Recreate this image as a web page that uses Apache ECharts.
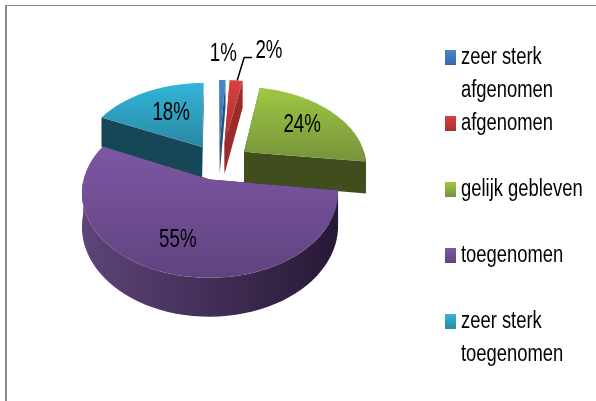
<!DOCTYPE html>
<html>
<head>
<meta charset="utf-8">
<style>html,body{margin:0;padding:0;background:#fff}#chart{width:596px;height:401px}</style>
<script src="https://cdn.jsdelivr.net/npm/echarts@6/dist/echarts.min.js"></script>
</head>
<body>
<div id="chart"></div>
<script>
const categories = ["zeer sterk\nafgenomen", "afgenomen", "gelijk gebleven", "toegenomen", "zeer sterk\ntoegenomen"]
const values = [1, 2, 24, 55, 18]

// top face gradient, side wall, outer wall left/right
const topColors = [["#4a86c8", "#336aa8"], ["#d8413e", "#a92f2c"], ["#9fc844", "#76933a"], ["#7d57a3", "#5f4380"], ["#33b5d9", "#2a88a4"]]
const wallColors = ["#25507f", "#9a2b28", "#3f4e1c", "#2a1c3a", "#154757"]
const outerColors = [["#25507f", "#25507f"], ["#9a2b28", "#9a2b28"], ["#3f4e1c", "#3f4e1c"], ["#5e4479", "#261935"], ["#154757", "#154757"]]

// fake perspective, Excel 3D pie has no ECharts equivalent
const cx = 214, cy = 164.5, R = 123, k = 0.638, persp = 0.15, depth = 32
// how far each slice is pulled out, in px before perspective
const offsets = [[6, -35], [11, -35], [30.7, -20], [-3.8, 23], [-12.3, -28.4]]
const labelDist = [1.5, 1.5, 0.65, 0.66, 0.585]
const labelShift = [[0, 0], [28, -4], [0, 0], [-6, 2], [3, 0]]
const legendX = 445, legendY = 50, legendStep = 66, lineGap = 33

const total = values.reduce((a, b) => a + b, 0)

function project(X, Y, z) {
  const s = 1 / (1 - persp * Y / R)
  return [cx + X * s, cy + (k * Y + z * depth) * s]
}

function sliceAngles(i) {
  const before = values.slice(0, i).reduce((a, b) => a + b, 0)
  return [before / total * 2 * Math.PI, (before + values[i]) / total * 2 * Math.PI]
}

function grad(c, horizontal) {
  return new echarts.graphic.LinearGradient(0, 0, horizontal ? 1 : 0, horizontal ? 0 : 1, [
    { offset: 0, color: c[0] },
    { offset: 1, color: c[1] }
  ])
}

function renderSlice(params, api) {
  const i = api.value(0)
  const [a0, a1] = sliceAngles(i)
  const mid = (a0 + a1) / 2
  const ox = offsets[i][0]
  const oy = offsets[i][1]
  const pt = (a, z) => project(ox + R * Math.sin(a), oy - R * Math.cos(a), z)
  const apex = (z) => project(ox, oy, z)

  const arc = []
  const n = 60
  for (let j = 0; j <= n; j++) arc.push(a0 + (a1 - a0) * j / n)

  const children = []
  // radial walls
  ;[a0, a1].forEach((a) => {
    children.push({
      type: "polygon",
      shape: { points: [apex(0), pt(a, 0), pt(a, 1), apex(1)] },
      style: { fill: wallColors[i] }
    })
  })
  // outer wall, only the part that faces the viewer
  const front = arc.filter((a) => Math.cos(a) < 0.02)
  if (front.length > 1) {
    const pts = front.map((a) => pt(a, 0)).concat(front.slice().reverse().map((a) => pt(a, 1)))
    children.push({
      type: "polygon",
      shape: { points: pts },
      style: { fill: grad(outerColors[i], true) }
    })
  }
  // top face
  children.push({
    type: "polygon",
    shape: { points: [apex(0)].concat(arc.map((a) => pt(a, 0))) },
    style: { fill: grad(topColors[i], false) }
  })
  // value label
  const lp = project(ox + labelDist[i] * R * Math.sin(mid), oy - labelDist[i] * R * Math.cos(mid), 0)
  const tx = lp[0] + labelShift[i][0], ty = lp[1] + labelShift[i][1]
  if (i === 1) {
    const e = pt(mid, 0)
    children.push({
      type: "polyline",
      shape: { points: [[e[0] + 1, e[1]], [e[0] + 8, e[1] - 23], [e[0] + 16, e[1] - 23]] },
      style: { stroke: "#000", lineWidth: 1.5, fill: null }
    })
  }
  children.push({
    type: "text",
    x: tx, y: ty,
    scaleX: 0.72,
    style: {
      text: values[i] + "%",
      font: '26px "Liberation Sans", sans-serif',
      fill: "#000", align: "center", verticalAlign: "middle"
    }
  })
  return { type: "group", children }
}

function renderLegend(params, api) {
  const i = api.value(0)
  const top = legendY + i * legendStep
  const children = [{
    type: "rect",
    shape: { x: legendX, y: top, width: 11, height: 15 },
    style: { fill: grad(topColors[i], false) }
  }]
  categories[i].split("\n").forEach((line, j) => {
    children.push({
      type: "text",
      x: legendX + 16, y: top + 8 + j * lineGap,
      scaleX: 0.8,
      style: {
        text: line,
        font: '23px "Liberation Sans", sans-serif',
        fill: "#000", align: "left", verticalAlign: "middle"
      }
    })
  })
  return { type: "group", children }
}

// back to front: teal, blue, red, green, purple
const drawOrder = [4, 0, 1, 2, 3]

const chartInstance = echarts.init(document.getElementById("chart"), null, { renderer: "canvas" })
chartInstance.setOption({
  animation: false,
  backgroundColor: "#fff",
  graphic: [
    { type: "line", shape: { x1: 5, y1: 5.5, x2: 596, y2: 5.5 }, style: { stroke: "#8a8a8a", lineWidth: 1.2 }, silent: true },
    { type: "line", shape: { x1: 6, y1: 5, x2: 6, y2: 401 }, style: { stroke: "#8a8a8a", lineWidth: 2 }, silent: true }
  ],
  series: [
    {
      type: "custom",
      coordinateSystem: "none",
      renderItem: renderSlice,
      data: drawOrder.map((i) => [i, values[i]])
    },
    {
      type: "custom",
      coordinateSystem: "none",
      renderItem: renderLegend,
      data: categories.map((c, i) => [i])
    }
  ]
})
</script>
</body>
</html>
